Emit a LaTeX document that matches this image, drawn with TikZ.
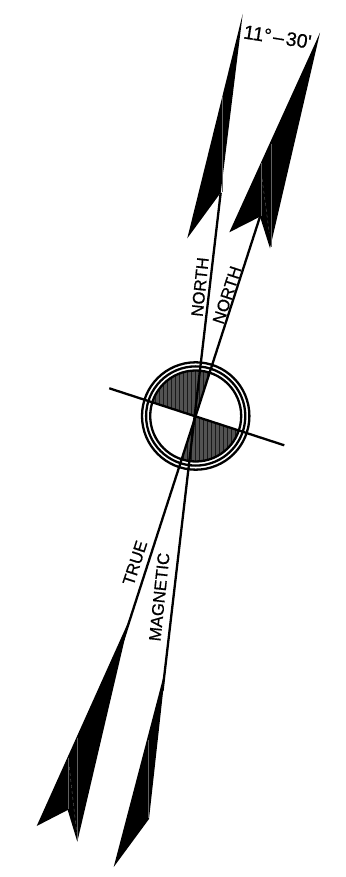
\documentclass[tikz,border=0pt]{standalone}
\usepackage{fontspec}
\setmainfont{Liberation Sans}
\newfontfamily\drawfont[FakeBold=0.6]{Liberation Sans}
\tikzset{
  labeltext/.style={font=\drawfont\fontsize{16.8}{18}\selectfont,inner sep=0pt},
  seam/.style={black!62,line width=0.4pt}
}
\begin{document}
\begin{tikzpicture}[x=1pt,y=1pt,line width=2.3pt]
\useasboundingbox (-195.7,-461) rectangle (149.3,416);
\coordinate (ctr) at (0,0);
% hatched quarters
\begin{scope}
\clip (ctr)--(72:46) arc (72:162:46)--cycle (ctr)--(252:46) arc (252:342:46)--cycle;
\fill[black!68] (-50,-50) rectangle (50,50);
\foreach \x in {-48,-44,...,48} \draw[line width=1pt,black!90] (\x,-50)--(\x,50);
\end{scope}
% rings
\foreach \r in {53.7,49.6,45.5} \draw (ctr) circle (\r);
% crossing line
\coordinate (crossW) at (-86.4,27.7);
\coordinate (crossE) at (88.6,-29.3);
\draw (crossW)--(crossE);
% magnetic north arrow
\coordinate (magTip) at (47,402);
\coordinate (magBarb) at (-8.4,177.7);
\coordinate (magNotch) at (25,223.3);
\coordinate (magLow) at (-30,-252);
\coordinate (magEnd) at (-33.2,-275);
\coordinate (magLowNotch) at (-46.7,-403);
\coordinate (magLowTip) at (-82,-451);
\fill (magTip)--(magBarb)--(magNotch)--cycle;
\fill (magLow)--(magLowNotch)--(magLowTip)--cycle;
\draw (magNotch)--(magEnd);
\draw[seam] (26.6,319)--(26.6,224);
\draw[seam] (-47.4,-324)--(-47.4,-402);
% true north arrow
\coordinate (trueTip) at (124.3,383.3);
\coordinate (trueBarb) at (33.6,183.7);
\coordinate (trueNotch) at (64.3,199.3);
\coordinate (trueFoot) at (74.3,167.7);
\coordinate (trueLow) at (-66.5,-204);
\coordinate (trueEnd) at (-72.4,-224);
\coordinate (trueLowBarb) at (-159,-410);
\coordinate (trueLowNotch) at (-128,-394);
\coordinate (trueLowFoot) at (-118.4,-425.7);
\fill (trueTip)--(trueBarb)--(trueNotch)--(trueFoot)--cycle;
\fill (trueLow)--(trueLowBarb)--(trueLowNotch)--(trueLowFoot)--cycle;
\draw (trueNotch)--(trueEnd);
\draw[seam] (75,272)--(75,169);
\draw[seam] (65.6,253)--(65.6,200);
\draw[seam,dashed] (65.6,243)--(73.6,183);
\draw[seam] (-118.4,-322)--(-118.4,-424);
\draw[seam] (-127.4,-342)--(-127.4,-393);
\draw[seam,dashed] (-126.4,-351)--(-119,-417);
% labels
\node[labeltext,rotate=84] (northA) at (4.3,129) {NORTH};
\node[labeltext,rotate=72] (northB) at (31.3,121) {NORTH};
\node[labeltext,rotate=72] (trueLabel) at (-60.7,-147) {TRUE};
\node[labeltext,rotate=84] (magLabel) at (-36.4,-181) {MAGNETIC};
\node[labeltext,rotate=-9,font=\drawfont\fontsize{19.5}{20}\selectfont] (angleLabel) at (81.8,379) {11°\kern2pt–\kern2pt30'};
\end{tikzpicture}
\end{document}
